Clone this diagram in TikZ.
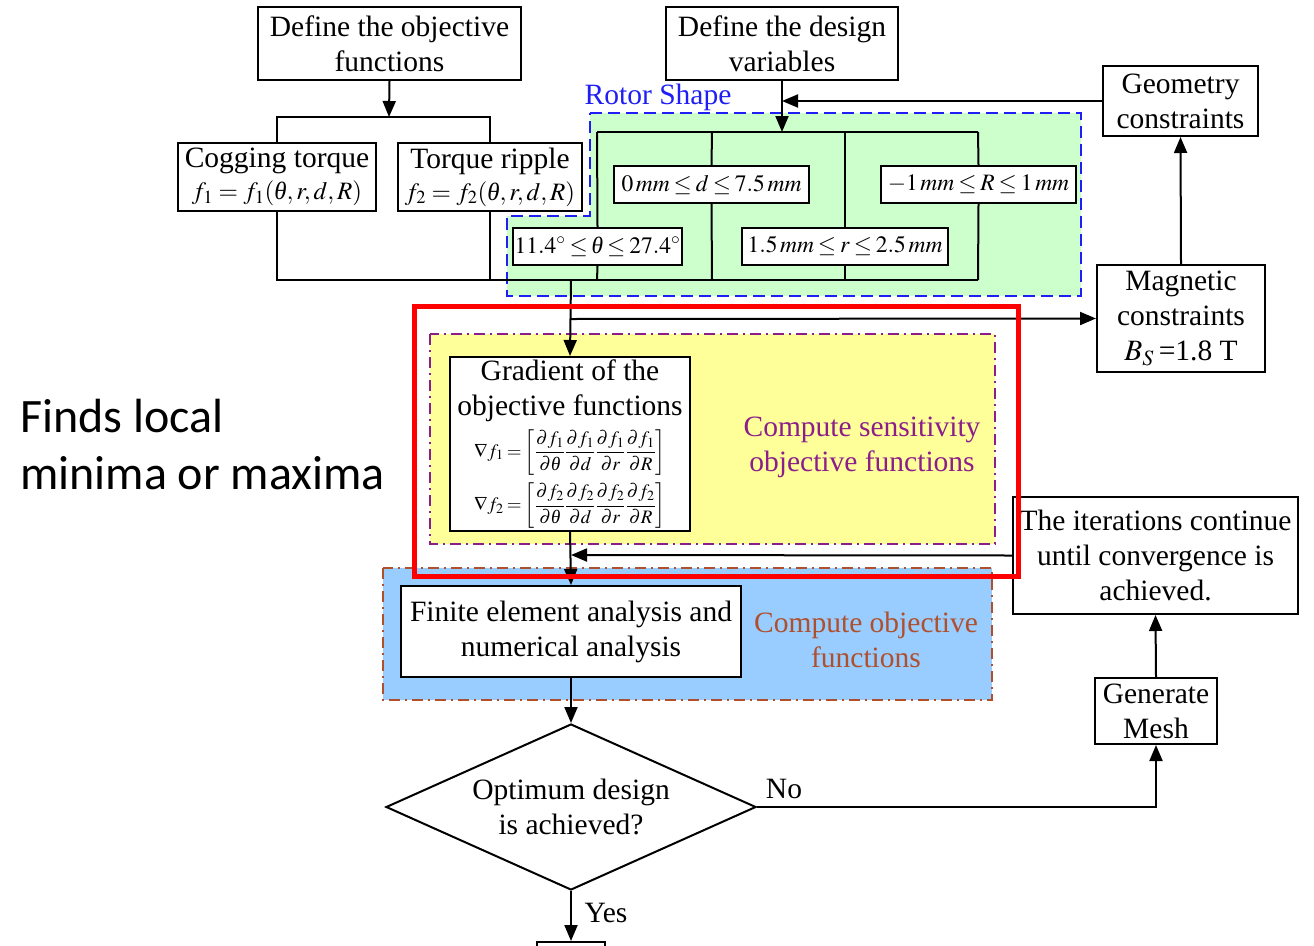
\documentclass[tikz,border=0pt]{standalone}
\usepackage{mathptmx}
\usepackage{fontspec}
\setmainfont{Liberation Serif}
\newfontfamily\notefont{Carlito}
\usetikzlibrary{arrows.meta,shapes.geometric}
\definecolor{zonegreen}{RGB}{204,255,204}
\definecolor{zoneyellow}{RGB}{255,255,153}
\definecolor{zoneblue}{RGB}{153,204,255}
\definecolor{rotorblue}{RGB}{30,30,245}
\definecolor{sensepurple}{RGB}{140,30,140}
\definecolor{objbrown}{RGB}{175,80,45}
\definecolor{focusred}{RGB}{255,0,0}
\newcommand\txtsize{\fontsize{29.5}{35}\selectfont}
\newcommand\eqsize{\fontsize{25}{30}\selectfont}
\newcommand\rangesize{\fontsize{23.5}{28}\selectfont\thickmuskip=3mu\medmuskip=2mu}
\newcommand\gradsize{\fontsize{19}{23}\selectfont\medmuskip=2mu\thickmuskip=3mu}
% italic theta taken from the text face
\newcommand\itheta{\mbox{\itshape θ}}
\newcommand\gradrow[1]{$\nabla f_{#1}=\left[\displaystyle
  \frac{\partial f_{#1}}{\partial\itheta}\frac{\partial f_{#1}}{\partial d}
  \frac{\partial f_{#1}}{\partial r}\frac{\partial f_{#1}}{\partial R}\right]$}

\begin{document}
\begin{tikzpicture}[x=1pt,y=-1pt,
  box/.style={draw, line width=2pt, fill=white, inner sep=0pt, align=center, font=\txtsize},
  rangebox/.style={box, font=\rangesize},
  link/.style={line width=2pt},
  arr/.style={link, -{Triangle[length=16pt,width=13pt]}},
  plain/.style={inner sep=0pt, align=center, font=\txtsize},
]
\useasboundingbox (0,0) rectangle (1314,945);

% shaded zones
\draw[rotorblue, line width=2.4pt, dash pattern=on 12pt off 6pt, fill=zonegreen]
  (590,113) -- (1081,113) -- (1081,296) -- (507,296) -- (507,216) -- (590,216) -- cycle;
\draw[sensepurple, line width=2pt, dash pattern=on 11pt off 5pt on 2pt off 5pt, fill=zoneyellow]
  (430,334) rectangle (995,544);
\draw[objbrown, line width=2pt, dash pattern=on 11pt off 5pt on 2pt off 5pt, fill=zoneblue]
  (383,568) rectangle (992,700);

% zone captions
\node[plain, text=rotorblue] (rotorlbl) at (658,97) {Rotor Shape};
\node[plain, text=sensepurple] (senselbl) at (862,447) {Compute sensitivity\\objective functions};
\node[plain, text=objbrown] (objlbl) at (866,640) {Compute objective\\functions};

% side note
\node[inner sep=0pt, align=left, anchor=west, font=\notefont\fontsize{48}{57}\selectfont]
  (note) at (20,445) {Finds local\\minima or maxima};

% flow boxes
\node[box, minimum width=263pt, minimum height=73pt] (obj) at (389.5,43.5) {Define the objective\\functions};
\node[box, minimum width=232pt, minimum height=73pt] (design) at (782,43.5) {Define the design\\variables};
\node[box, minimum width=198pt, minimum height=68pt] (cog) at (277,177)
  {Cogging torque\\[-3pt]{\eqsize$f_1=f_1(\itheta,r,d,R)$}};
\node[box, minimum width=184pt, minimum height=68pt] (rip) at (490,177)
  {Torque ripple\\[-3pt]{\eqsize$f_2=f_2(\itheta,r,d,R)$}};
\node[box, minimum width=155pt, minimum height=70pt] (geom) at (1180.5,101) {Geometry\\constraints};
\node[box, minimum width=168pt, minimum height=107pt] (mag) at (1181,318.5)
  {Magnetic\\constraints\\$B_S$\,=1.8 T};

% design variable ranges
\node[rangebox, minimum width=195pt, minimum height=37pt] (rd) at (711.5,184.5) {$0\,mm\le d\le 7.5\,mm$};
\node[rangebox, minimum width=195pt, minimum height=37pt] (rR) at (978.5,184.5) {$-1\,mm\le R\le 1\,mm$};
\node[rangebox, minimum width=206pt, minimum height=37pt] (rr) at (845,246.5) {$1.5\,mm\le r\le 2.5\,mm$};
\node[rangebox, minimum width=169pt, minimum height=37pt] (rth) at (597.5,246.5) {$11.4^{\circ}\le\itheta\le 27.4^{\circ}$};

% sensitivity and analysis
\node[box, minimum width=240pt, minimum height=174pt] (grad) at (570,444)
  {Gradient of the\\objective functions\\[7pt]
   {\gradsize\gradrow{1}}\\[7pt]
   {\gradsize\gradrow{2}}};
\node[box, minimum width=340pt, minimum height=91pt] (fea) at (571,631.5)
  {Finite element analysis and\\numerical analysis};
\node[box, shape=diamond, aspect=2.2, minimum width=370pt, minimum height=166pt] (dec) at (571,807)
  {Optimum design\\is achieved?};
\node[box, minimum width=285pt, minimum height=117pt] (iter) at (1155.5,555.5)
  {The iterations continue\\until convergence is\\achieved.};
\node[box, minimum width=122pt, minimum height=66pt] (mesh) at (1156,711) {Generate\\Mesh};
\node[box, minimum width=68pt, minimum height=40pt] (stop) at (571,962) {};

% branch labels
\node[plain] (nolbl) at (784,789) {No};
\node[plain] (yeslbl) at (606,913) {Yes};

% junction points
\coordinate (objsplit) at (389,117);
\coordinate (treetop) at (782,132);
\coordinate (geomin) at (782,101);
\coordinate (join) at (571,280);
\coordinate (tap) at (571,319);
\coordinate (merge) at (571,555);

% objective branch
\draw[arr] (obj.south) -- (objsplit);
\draw[link] (cog.north) |- (objsplit) -| (rip.north);
\draw[link] (cog.south) |- (978,280);
\draw[link] (rip.south) -- (490,280);

% design variable tree
\draw[arr] (design.south) -- (treetop);
\draw[arr] (geom.west) -- (geomin);
\draw[link] (597,132) -- (978,132);
\draw[link] (597,132) -- (rth.north);  \draw[link] (rth.south) -- (597,280);
\draw[link] (712,132) -- (rd.north);   \draw[link] (rd.south) -- (712,280);
\draw[link] (845,132) -- (rr.north);   \draw[link] (rr.south) -- (845,280);
\draw[link] (978,132) -- (rR.north);   \draw[link] (rR.south) -- (978,280);

% main flow
\draw[arr] (join) -- (grad.north);
\draw[arr] (tap) -- (mag.west);
\draw[arr] (mag.north) -- (geom.south);
\draw[arr] (grad.south) -- (fea.north);
\draw[arr] (iter.west) -- (merge);
\draw[arr] (fea.south) -- (dec.north);
\draw[arr] (dec.east) -| (mesh.south);
\draw[arr] (mesh.north) -- (iter.south);
\draw[arr] (dec.south) -- (stop.north);

% highlight frame
\draw[focusred, line width=5pt] (414,306) rectangle (1018,576);
\end{tikzpicture}
\end{document}
